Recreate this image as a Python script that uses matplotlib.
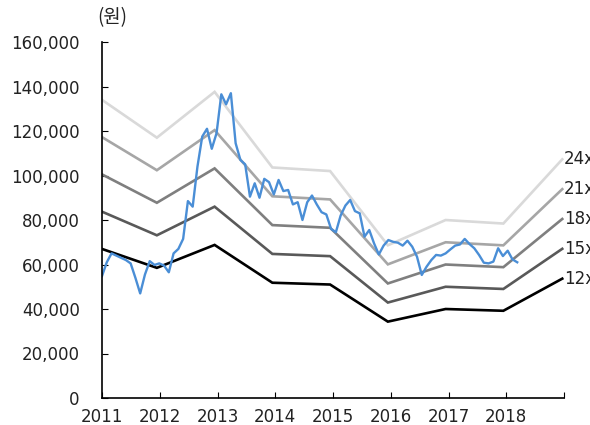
import numpy as np
import matplotlib.pyplot as plt
from matplotlib.ticker import FuncFormatter

# 주가 (월말, 2011.01 ~ 2018.04)
price = [54800, 61000, 65000, 64000, 63000, 62000, 60500, 54000, 47000, 55500,
         61500, 59800, 60500, 59500, 56500, 65000, 67000, 71500, 88500, 86000,
         104000, 117500, 121000, 112000, 119000, 136500, 132000, 137000, 114500, 107000,
         105000, 90500, 96500, 90000, 98500, 97000, 91500, 98000, 93000, 93500,
         87000, 88000, 80000, 88000, 91000, 87000, 83500, 82500, 76000, 74500,
         82000, 86500, 89000, 84000, 83000, 72500, 75500, 69500, 64500, 68500,
         71000, 70200, 69800, 68500, 70700, 68000, 63500, 55300, 59000, 62000,
         64300, 64000, 65000, 66800, 68500, 69000, 71500, 69200, 67300, 64300,
         60800, 60500, 61300, 67300, 63800, 66200, 62300, 61000]
price_x = 2011 + np.arange(len(price)) / 12.1

# EPS (연말 기준) 와 PER 배수
eps_x = [2011.0, 2011.95, 2012.95, 2013.95, 2014.95, 2015.95, 2016.95, 2017.95, 2018.97]
eps = [5583, 4875, 5733, 4317, 4250, 2860, 3333, 3267, 4470]
multiples = [24, 21, 18, 15, 12]
band_colors = ['#d9d9d9', '#a6a6a6', '#7f7f7f', '#595959', '#000000']

fig = plt.figure(figsize=(5.9, 4.25), dpi=100)
ax = fig.add_axes([102 / 590, 1 - 398 / 425, 462 / 590, 356 / 425])

for m, c in zip(multiples, band_colors):
    band = np.array(eps) * m
    ax.plot(eps_x, band, color=c, lw=1.9, solid_joinstyle='miter')
    ax.annotate(f'{m}x', xy=(eps_x[-1], band[-1]), xytext=(1, 0),
                textcoords='offset points', va='center', ha='left',
                fontsize=12, color='#222222', annotation_clip=False)

ax.plot(price_x, price, color='#4a8ed6', lw=1.7)

ax.set_xlim(2011, 2019)
ax.set_ylim(0, 160000)
ax.set_xticks(range(2011, 2020))
ax.set_xticklabels([str(y) for y in range(2011, 2019)] + [''])
ax.set_yticks(range(0, 160001, 20000))
ax.yaxis.set_major_formatter(FuncFormatter(lambda v, p: f'{int(v):,}'))

for s in ['top', 'right']:
    ax.spines[s].set_visible(False)
for s in ['left', 'bottom']:
    ax.spines[s].set_linewidth(1.2)
ax.tick_params(axis='y', direction='in', length=4, pad=16, labelsize=12)
ax.tick_params(axis='x', direction='in', length=4, pad=7, labelsize=12)
ax.tick_params(colors='black', which='both', labelcolor='#222222')

fig.text(97 / 590, 1 - 18 / 425, '(원)', va='center', ha='left', fontsize=13.5,
         family=['Noto Sans CJK KR', 'DejaVu Sans'], color='#222222')

fig.savefig('out.png', dpi=100)
